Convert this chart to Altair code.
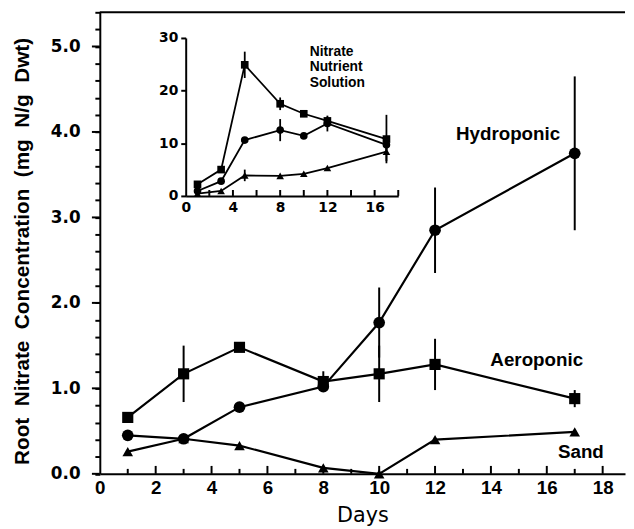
import altair as alt
import pandas as pd

# ---------------- data ----------------
days = [1, 3, 5, 8, 10, 12, 17]
series_names = ["Hydroponic", "Aeroponic", "Sand"]

hydroponic = [0.45, 0.41, 0.78, 1.02, 1.77, 2.85, 3.75]
hydroponic_err = [0.0, 0.0, 0.0, 0.0, 0.41, 0.50, 0.90]
aeroponic = [0.66, 1.17, 1.48, 1.08, 1.17, 1.28, 0.88]
aeroponic_err = [0.0, 0.33, 0.0, 0.12, 0.33, 0.30, 0.10]
sand = [0.26, 0.41, 0.33, 0.07, 0.00, 0.40, 0.49]
sand_err = [0.0, 0.0, 0.0, 0.0, 0.0, 0.0, 0.0]

inset_hydroponic = [0.94, 2.8, 10.6, 12.5, 11.4, 13.75, 9.7]
inset_hydroponic_err = [0.0, 0.0, 0.0, 2.1, 0.0, 1.5, 1.0]
inset_aeroponic = [2.2, 5.0, 24.9, 17.5, 15.6, 14.25, 10.8]
inset_aeroponic_err = [0.0, 0.0, 2.5, 1.2, 0.0, 0.8, 4.6]
inset_sand = [0.44, 0.94, 3.9, 3.8, 4.2, 5.3, 8.4]
inset_sand_err = [0.0, 0.0, 1.1, 0.0, 0.0, 0.0, 1.8]

main_x_labels = [0, 2, 4, 6, 8, 10, 12, 14, 16, 18]
main_x_minor = [1, 3, 5, 7, 9, 11, 13, 15, 17]
main_y_major = [0, 1, 2, 3, 4, 5]
main_y_all = [round(i * 0.2, 1) for i in range(28)]
inset_x_labels = [0, 4, 8, 12, 16]
inset_x_ticks = [2, 4, 6, 8, 10, 12, 14, 16, 18]
inset_y_ticks = [0, 10, 20, 30]

series_labels = ["Hydroponic", "Aeroponic", "Sand"]
label_x = [12.75, 13.98, 16.4]
label_y = [3.97, 1.33, 0.26]
inset_title_lines = ["Nitrate", "Nutrient", "Solution"]

GAP = "\u00a0\u00a0"
y_title = GAP.join(["Root", "Nitrate", "Concentration", "(mg", "N/g", "Dwt)"])


def long_table(vals_list, errs_list):
    rows = []
    for name, vals, errs in zip(series_names, vals_list, errs_list):
        for d, v, e in zip(days, vals, errs):
            rows.append(dict(day=d, value=v, err=e, low=v - e, high=v + e, series=name))
    return pd.DataFrame(rows)


main_df = long_table([hydroponic, aeroponic, sand], [hydroponic_err, aeroponic_err, sand_err])
inset_df = long_table([inset_hydroponic, inset_aeroponic, inset_sand],
                      [inset_hydroponic_err, inset_aeroponic_err, inset_sand_err])

W = 532
H = 467.5
BLACK = "black"


def shape_scale():
    return alt.Scale(domain=series_names, range=["circle", "square", "triangle-up"])


# ---------------- main plot scales / axes ----------------
def mx():
    return alt.Scale(domain=[0, 18.8], range=[0, W], nice=False, zero=False)


def my():
    return alt.Scale(domain=[0, 5.4], range=[H, 0], nice=False, zero=False)


x_axis = alt.Axis(values=main_x_labels, ticks=False, domain=True, domainWidth=2, domainColor=BLACK,
                  labelFont="Liberation Sans", labelFontWeight="bold", labelFontSize=19,
                  labelColor=BLACK, labelPadding=5, labelFlush=False, labelOverlap=False,
                  title="Days", titleFont="DejaVu Sans", titleFontWeight="normal",
                  titleFontSize=21, titleColor=BLACK, titlePadding=7, grid=False)
y_axis = alt.Axis(values=main_y_all, tickSize=5, tickWidth=2, tickColor=BLACK,
                  domain=True, domainWidth=2, domainColor=BLACK,
                  labelExpr="abs(datum.value - round(datum.value)) < 0.001 ? format(datum.value, '.1f') : ''",
                  labelFont="DejaVu Sans", labelFontWeight="bold", labelFontSize=17,
                  labelColor=BLACK, labelPadding=15, labelFlush=False, labelOverlap=False,
                  title=y_title, titleFont="Liberation Sans",
                  titleFontWeight="bold", titleFontSize=21, titleColor=BLACK,
                  titlePadding=18, titleY=H / 2 + 8, grid=False)

base_main = alt.Chart(main_df)
main_lines = base_main.mark_line(color=BLACK, strokeWidth=2.2).encode(
    x=alt.X("day:Q", scale=mx(), axis=x_axis),
    y=alt.Y("value:Q", scale=my(), axis=y_axis),
    detail="series:N",
)
main_err = base_main.transform_filter("datum.err > 0").mark_rule(color=BLACK, strokeWidth=2).encode(
    x=alt.X("day:Q", scale=mx(), axis=None),
    y=alt.Y("low:Q", scale=my(), axis=None),
    y2="high:Q",
)
main_pts = base_main.mark_point(filled=True, color=BLACK, opacity=1).encode(
    x=alt.X("day:Q", scale=mx(), axis=None),
    y=alt.Y("value:Q", scale=my(), axis=None),
    shape=alt.Shape("series:N", scale=shape_scale(), legend=None),
    size=alt.Size("series:N", scale=alt.Scale(domain=series_names, range=[140, 115, 130]), legend=None),
)

main_xticks_major = alt.Chart(pd.DataFrame({"day": main_x_labels[1:]})).mark_rule(
    color=BLACK, strokeWidth=2).encode(
    x=alt.X("day:Q", scale=mx(), axis=None), y=alt.value(H), y2=alt.value(H - 8))
main_xticks_minor = alt.Chart(pd.DataFrame({"day": main_x_minor})).mark_rule(
    color=BLACK, strokeWidth=2).encode(
    x=alt.X("day:Q", scale=mx(), axis=None), y=alt.value(H), y2=alt.value(H - 5))
main_yticks_major = alt.Chart(pd.DataFrame({"value": main_y_major})).mark_rule(
    color=BLACK, strokeWidth=2).encode(
    y=alt.Y("value:Q", scale=my(), axis=None), x=alt.value(-8), x2=alt.value(0))
frame_top = alt.Chart(pd.DataFrame({"a": [0]})).mark_rule(color=BLACK, strokeWidth=2).encode(
    x=alt.value(0), x2=alt.value(W), y=alt.value(0))

lab_df = pd.DataFrame({"label": series_labels, "day": label_x, "value": label_y})
main_labels = alt.Chart(lab_df).mark_text(
    align="left", baseline="middle", font="Liberation Sans", fontWeight="bold", fontSize=19,
    color=BLACK).encode(
    x=alt.X("day:Q", scale=mx(), axis=None),
    y=alt.Y("value:Q", scale=my(), axis=None),
    text="label:N",
)

# ---------------- inset ----------------
IX0, IX1 = 87, 302.3
IY0, IY1 = 186, 26


def ix():
    return alt.Scale(domain=[0, 18], range=[IX0, IX1], nice=False, zero=False)


def iy():
    return alt.Scale(domain=[0, 30], range=[IY0, IY1], nice=False, zero=False)


ix_axis = alt.Axis(orient="bottom", offset=IY0 - H, values=inset_x_labels, ticks=False,
                   domain=True, domainWidth=2, domainColor=BLACK, labelFont="DejaVu Sans",
                   labelFontWeight="bold", labelFontSize=14, labelColor=BLACK, labelPadding=5,
                   labelFlush=False, labelOverlap=False, title=None, grid=False)
iy_axis = alt.Axis(orient="left", offset=-IX0, values=inset_y_ticks, tickSize=5, tickWidth=2,
                   tickColor=BLACK, domain=True, domainWidth=2, domainColor=BLACK,
                   labelFont="DejaVu Sans", labelFontWeight="bold", labelFontSize=14,
                   labelColor=BLACK, labelPadding=3, labelFlush=False, labelOverlap=False,
                   title=None, grid=False)

base_inset = alt.Chart(inset_df)
inset_lines = base_inset.mark_line(color=BLACK, strokeWidth=1.8).encode(
    x=alt.X("day:Q", scale=ix(), axis=ix_axis),
    y=alt.Y("value:Q", scale=iy(), axis=iy_axis),
    detail="series:N",
)
inset_err = base_inset.transform_filter("datum.err > 0").mark_rule(color=BLACK, strokeWidth=1.8).encode(
    x=alt.X("day:Q", scale=ix(), axis=None),
    y=alt.Y("low:Q", scale=iy(), axis=None),
    y2="high:Q",
)
inset_pts = base_inset.mark_point(filled=True, color=BLACK, opacity=1).encode(
    x=alt.X("day:Q", scale=ix(), axis=None),
    y=alt.Y("value:Q", scale=iy(), axis=None),
    shape=alt.Shape("series:N", scale=shape_scale(), legend=None),
    size=alt.Size("series:N", scale=alt.Scale(domain=series_names, range=[60, 60, 60]), legend=None),
)
inset_xticks = alt.Chart(pd.DataFrame({"day": inset_x_ticks})).mark_rule(
    color=BLACK, strokeWidth=2).encode(
    x=alt.X("day:Q", scale=ix(), axis=None), y=alt.value(IY0), y2=alt.value(IY0 - 6))

ttl_df = pd.DataFrame({"label": inset_title_lines, "day": [10.5, 10.5, 10.5],
                       "value": [27.3, 24.4, 21.5]})
inset_title = alt.Chart(ttl_df).mark_text(
    align="left", baseline="middle", font="Liberation Sans", fontWeight="bold", fontSize=14,
    color=BLACK).encode(
    x=alt.X("day:Q", scale=ix(), axis=None),
    y=alt.Y("value:Q", scale=iy(), axis=None),
    text="label:N",
)

chart = alt.layer(
    main_lines, main_err, main_pts, main_xticks_major, main_xticks_minor,
    main_yticks_major, frame_top, main_labels,
    inset_lines, inset_err, inset_pts, inset_xticks, inset_title,
).resolve_scale(
    x="independent", y="independent", shape="independent", size="independent"
).properties(
    width=W, height=H,
    background="white",
    autosize=alt.AutoSizeParams(type="none"),
    padding={"left": 93, "top": 1, "right": 1, "bottom": 50},
).configure_view(stroke=None)

chart.save("out.html", embed_options={"renderer": "svg", "actions": False})
